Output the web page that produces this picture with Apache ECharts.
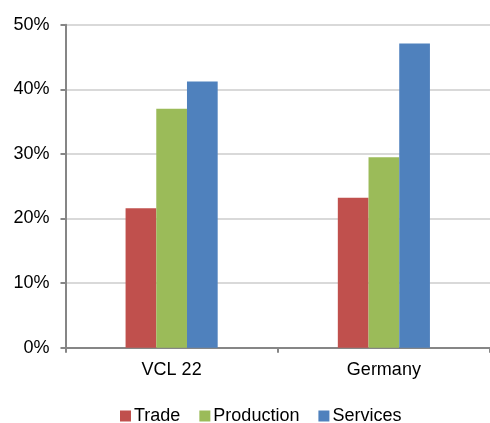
<!DOCTYPE html>
<html>
<head>
<meta charset="utf-8">
<script src="https://cdn.jsdelivr.net/npm/echarts@6/dist/echarts.min.js"></script>
<style>
  html, body { margin: 0; padding: 0; background: #fff; }
  #chart { width: 490px; height: 423px; }
</style>
</head>
<body>
<div id="chart"></div>
<script>
// Sector shares by region (percent)
var categories = ['VCL 22', 'Germany'];
var trade = [21.6, 23.2];
var production = [37.0, 29.5];
var services = [41.2, 47.1];
var seriesNames = ['Trade', 'Production', 'Services'];
var colors = ['#C0504D', '#9BBB59', '#4F81BD'];

var font = 'Liberation Sans, Arial, Helvetica, sans-serif';
var chart = echarts.init(document.getElementById('chart'));

function bar(name, data, color) {
  return {
    name: name,
    type: 'bar',
    data: data,
    barGap: '0%',
    barCategoryGap: '56.6%',
    itemStyle: { color: color },
    emphasis: { disabled: true }
  };
}

chart.setOption({
  animation: false,
  color: colors,
  grid: { left: 65.5, right: -4, top: 24.7, bottom: 75.3 },
  legend: {
    top: 407,
    left: 120,
    padding: 0,
    itemWidth: 11,
    itemHeight: 11,
    itemGap: 19,
    icon: 'rect',
    textStyle: { fontFamily: font, fontSize: 18, color: '#000', padding: [0, 0, 0, -2] },
    data: seriesNames
  },
  xAxis: {
    type: 'category',
    data: categories,
    axisLine: { lineStyle: { color: '#868686', width: 2 } },
    axisTick: { show: true, length: 5, lineStyle: { color: '#868686', width: 2 } },
    axisLabel: { fontFamily: font, fontSize: 18, color: '#000', margin: 13 }
  },
  yAxis: {
    type: 'value',
    min: 0,
    max: 50,
    interval: 10,
    axisLine: { show: true, lineStyle: { color: '#868686', width: 2 } },
    axisTick: { show: true, length: 5, lineStyle: { color: '#868686', width: 2 } },
    splitLine: { lineStyle: { color: '#D9D9D9', width: 2 } },
    axisLabel: {
      fontFamily: font, fontSize: 18, color: '#000', margin: 16,
      formatter: function (v) { return v + '%'; }
    }
  },
  series: [
    bar(seriesNames[0], trade, colors[0]),
    bar(seriesNames[1], production, colors[1]),
    bar(seriesNames[2], services, colors[2])
  ]
});
</script>
</body>
</html>
